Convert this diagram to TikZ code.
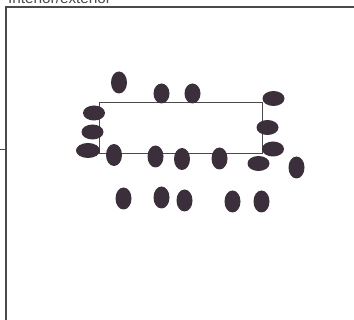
\documentclass[tikz,border=0pt]{standalone}
\usepackage{fontspec}
\setmainfont{Liberation Sans}
\usetikzlibrary{shapes.geometric}
\definecolor{blob}{HTML}{3A2F3A}
\definecolor{frame}{HTML}{4A4A4A}
\begin{document}
\begin{tikzpicture}[x=1pt,y=-1pt,
  tall/.style={ellipse,fill=blob,draw=none,inner sep=0pt,minimum width=16pt,minimum height=22pt},
  wide/.style={ellipse,fill=blob,draw=none,inner sep=0pt,minimum width=22pt,minimum height=15pt},
  framel/.style={draw=frame,line width=1.6pt}]
\useasboundingbox (0,0) rectangle (354,320);
% title (cut off at top, as in the reference)
\node[anchor=base west,inner sep=0pt,text=frame,font=\fontsize{15}{16}\selectfont,xscale=1.02] (title) at (8,3.5) {Interior/exterior};
% frame
\coordinate (tl) at (6,7);
\coordinate (tr) at (356,7);
\coordinate (bl) at (6,322);
\coordinate (tk0) at (0,150);
\coordinate (tk1) at (6,150);
\draw[framel] (tr) -- (tl) -- (bl);
\draw[draw=frame,line width=1pt] (tk0) -- (tk1);
% table
\node[draw=frame,line width=1pt,minimum width=163pt,minimum height=51pt,inner sep=0pt,anchor=north west] (table) at (98.5,102.5) {};
% chairs
\node[tall] (c1) at (119,82.5) {};
\node[tall,minimum height=20pt] (c2) at (161.5,93.5) {};
\node[tall,minimum height=20pt] (c3) at (192.5,93.5) {};
\node[wide] (c4) at (273.5,98.5) {};
\node[wide] (c5) at (94,113) {};
\node[wide] (c6) at (92.5,132) {};
\node[wide,minimum width=24pt] (c7) at (88,150.5) {};
\node[wide] (c8) at (267.5,127.5) {};
\node[wide] (c9) at (273,149) {};
\node[tall] (c10) at (114,155) {};
\node[tall] (c11) at (155.5,156.5) {};
\node[tall] (c12) at (182,159) {};
\node[tall] (c13) at (219.5,158.5) {};
\node[wide] (c14) at (258.5,163.5) {};
\node[tall] (c15) at (296.5,167.5) {};
\node[tall] (c16) at (123.5,198.5) {};
\node[tall] (c17) at (161.5,197.5) {};
\node[tall] (c18) at (184.5,200.5) {};
\node[tall] (c19) at (232.5,201.5) {};
\node[tall] (c20) at (261.5,201.5) {};
\end{tikzpicture}
\end{document}
